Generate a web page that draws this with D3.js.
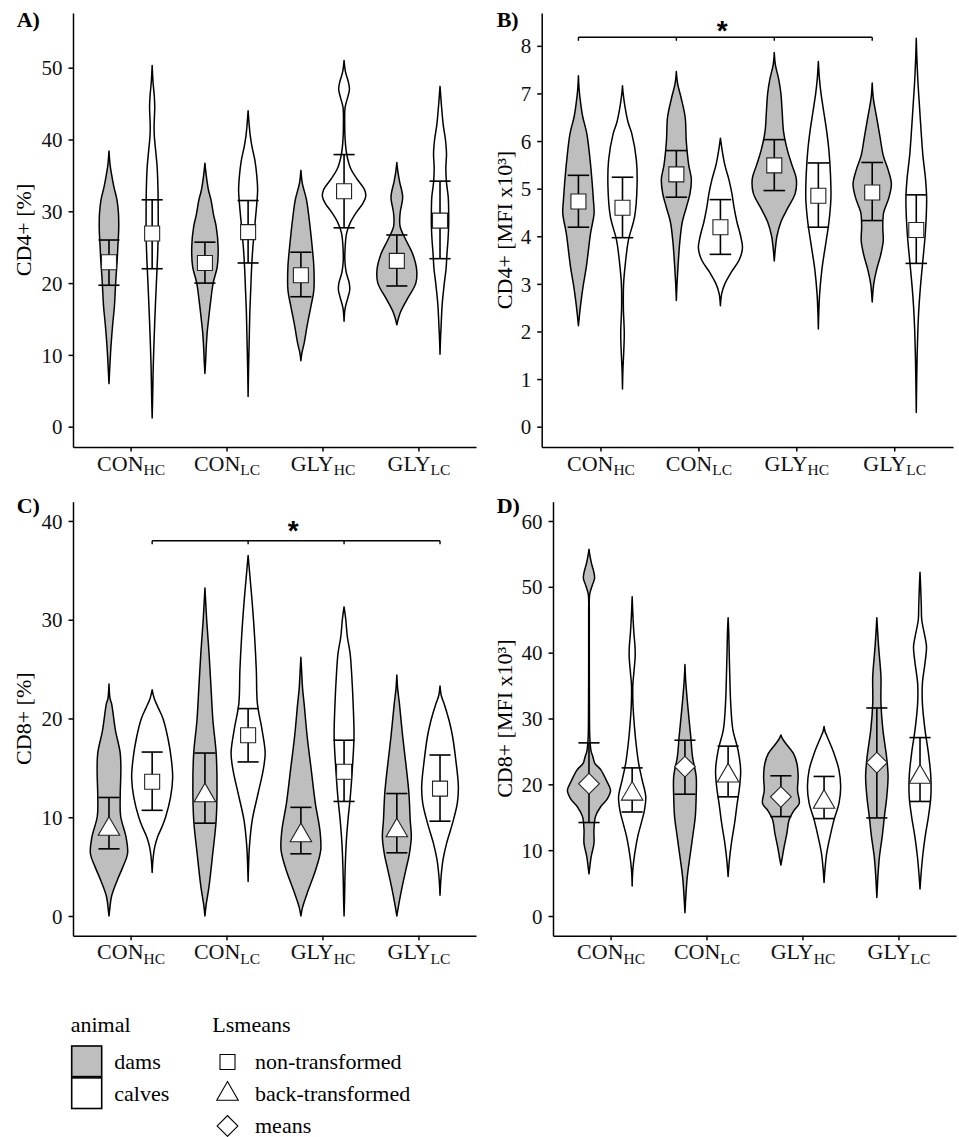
<!DOCTYPE html>
<html><head><meta charset="utf-8">
<script src="https://cdn.jsdelivr.net/npm/d3@7"></script>
<style>body{margin:0;background:#fff}svg{display:block}</style>
</head><body>
<svg id="chart" width="959" height="1137"></svg>
<script>
// ---------------- DATA ----------------
const categories = ["CON_HC", "CON_LC", "GLY_HC", "GLY_LC"];
const catMain = ["CON", "CON", "GLY", "GLY"];
const catSub = ["HC", "LC", "HC", "LC"];
const animals = ["dams", "calves"];

// violin profiles: [value, relative half-width], order: CON_HC dams, CON_HC calves, CON_LC dams, ...
const violinsA = [
  [[38.4,0],[36.5,0.05],[35.3,0.11],[33.5,0.22],[31.6,0.37],[29.7,0.44],[27.5,0.45],[25,0.41],[23.2,0.38],[21,0.33],[19.5,0.3],[16.7,0.25],[14.2,0.17],[11.1,0.09],[8.4,0.04],[6,0]],
  [[50.3,0],[48,0.04],[46,0.1],[44.5,0.12],[42,0.09],[40.5,0.1],[36.2,0.23],[33,0.27],[30,0.28],[27,0.28],[24.5,0.26],[22.3,0.23],[17.6,0.16],[13,0.1],[8.4,0.05],[3.7,0.02],[1.2,0]],
  [[36.7,0],[35,0.06],[33,0.16],[31.6,0.28],[29.5,0.4],[27.9,0.52],[25.1,0.61],[22.3,0.57],[20,0.38],[17.6,0.27],[15,0.17],[13,0.1],[11,0.06],[9,0.03],[7.4,0]],
  [[44,0],[42,0.05],[40.5,0.1],[39,0.18],[37,0.32],[35,0.4],[33,0.44],[31,0.4],[29,0.34],[27,0.28],[25,0.22],[22,0.16],[19,0.12],[16,0.08],[12,0.05],[8,0.02],[4.2,0]],
  [[35.7,0],[34,0.06],[31.6,0.26],[29,0.38],[26.9,0.46],[24.5,0.54],[22.3,0.6],[19,0.6],[16.7,0.46],[13.9,0.28],[11.6,0.15],[10.3,0.05],[9.2,0]],
  [[51,0],[49.5,0.06],[48,0.2],[47,0.25],[46,0.18],[44.5,0.05],[42,0.03],[40,0.05],[38,0.12],[36,0.3],[34.5,0.6],[33,0.95],[32,1.0],[31,0.85],[30,0.6],[28.5,0.3],[27,0.12],[25,0.05],[23,0.04],[21.5,0.1],[20,0.24],[19,0.26],[18,0.18],[16.5,0.05],[14.7,0]],
  [[36.8,0],[35.5,0.05],[34.1,0.13],[32,0.27],[29.7,0.15],[27.9,0.15],[26,0.42],[24.1,0.73],[21.8,0.92],[20,0.88],[17.6,0.45],[15.8,0.15],[14.2,0]],
  [[47.4,0],[45,0.06],[42,0.15],[40,0.25],[38,0.3],[36,0.27],[34,0.3],[32,0.38],[30,0.4],[28,0.4],[26,0.37],[24,0.32],[22,0.28],[20,0.2],[17,0.1],[14,0.05],[12,0.02],[10.1,0]]
];
const lsmeanA = [22.9, 26.9, 22.8, 27.1, 21.1, 32.8, 23.1, 28.7];
const lowerA  = [19.7, 22.0, 20.0, 22.8, 18.1, 27.7, 19.6, 23.4];
const upperA  = [26.0, 31.6, 25.7, 31.5, 24.3, 37.9, 26.7, 34.2];
const shapeA  = ["square","square","square","square","square","square","square","square"];
const ticksA  = [0, 10, 20, 30, 40, 50];

const violinsB = [
  [[7.37,0],[7.1,0.03],[6.8,0.1],[6.5,0.2],[6.16,0.38],[5.46,0.56],[4.76,0.68],[4.48,0.71],[4.06,0.55],[3.36,0.36],[2.94,0.21],[2.52,0.09],[2.12,0]],
  [[7.16,0],[7.0,0.03],[6.7,0.12],[6.4,0.25],[6.16,0.42],[5.6,0.63],[5.04,0.66],[4.41,0.55],[3.92,0.27],[3.43,0.13],[3.0,0.05],[2.5,0.04],[1.96,0.08],[1.5,0.05],[1.2,0.02],[0.79,0]],
  [[7.46,0],[7.2,0.06],[6.9,0.22],[6.5,0.4],[6.0,0.45],[5.5,0.56],[5.2,0.68],[4.9,0.62],[4.6,0.45],[4.3,0.27],[3.9,0.16],[3.4,0.08],[3.0,0.03],[2.65,0]],
  [[6.06,0],[5.8,0.08],[5.5,0.2],[5.2,0.38],[4.9,0.52],[4.6,0.62],[4.3,0.75],[4.0,0.92],[3.75,1.0],[3.5,0.85],[3.25,0.5],[3.0,0.2],[2.8,0.06],[2.54,0]],
  [[7.86,0],[7.6,0.05],[7.3,0.2],[7.0,0.3],[6.6,0.36],[6.2,0.42],[5.8,0.6],[5.5,0.8],[5.2,1.0],[4.9,0.95],[4.6,0.62],[4.3,0.3],[4.0,0.12],[3.7,0.04],[3.48,0]],
  [[7.67,0],[7.3,0.05],[7.0,0.12],[6.6,0.25],[6.2,0.38],[5.8,0.48],[5.3,0.55],[4.8,0.57],[4.3,0.48],[3.8,0.32],[3.3,0.16],[2.8,0.06],[2.4,0.02],[2.05,0]],
  [[7.22,0],[6.9,0.05],[6.5,0.2],[6.1,0.35],[5.7,0.5],[5.4,0.72],[5.1,0.87],[4.8,0.75],[4.5,0.52],[4.2,0.48],[3.9,0.5],[3.6,0.38],[3.3,0.2],[3.0,0.07],[2.62,0]],
  [[8.16,0],[7.7,0.03],[7.2,0.08],[6.7,0.15],[6.2,0.22],[5.7,0.3],[5.2,0.42],[4.8,0.47],[4.4,0.45],[4.0,0.4],[3.5,0.3],[3.0,0.2],[2.5,0.12],[2.0,0.07],[1.5,0.04],[1.0,0.02],[0.3,0]]
];
const lsmeanB = [4.73, 4.60, 5.30, 4.19, 5.49, 4.85, 4.92, 4.13];
const lowerB  = [4.19, 3.97, 4.82, 3.62, 4.96, 4.19, 4.33, 3.43];
const upperB  = [5.28, 5.24, 5.80, 4.77, 6.03, 5.54, 5.55, 4.87];
const shapeB  = ["square","square","square","square","square","square","square","square"];
const ticksB  = [0, 1, 2, 3, 4, 5, 6, 7, 8];
const sigAnimalB = "dams", sigLevelB = 8.18;

const violinsC = [
  [[23.5,0],[22,0.05],[21.5,0.12],[18.8,0.3],[16.5,0.52],[14.8,0.55],[12.1,0.52],[10.1,0.54],[8.0,0.79],[6.3,0.86],[5.0,0.65],[3.6,0.38],[2.0,0.12],[0.6,0.03],[0,0]],
  [[22.9,0],[22,0.1],[21,0.3],[20,0.5],[18,0.73],[16,0.88],[14,0.95],[12,0.85],[10,0.62],[9,0.45],[8,0.25],[7,0.12],[6,0.05],[4.4,0]],
  [[33.2,0],[32,0.03],[30,0.08],[26.6,0.19],[23.2,0.28],[19.8,0.37],[16.5,0.52],[13.1,0.56],[9.7,0.52],[6.3,0.36],[3.0,0.19],[1.2,0.06],[0,0]],
  [[36.5,0],[35,0.06],[31.7,0.19],[28.3,0.3],[24.9,0.38],[21.5,0.43],[18.8,0.65],[16.5,0.79],[14.8,0.7],[12.4,0.46],[9.7,0.19],[7,0.06],[5,0.02],[3.5,0]],
  [[26.2,0],[25,0.03],[23,0.08],[21.5,0.15],[18.2,0.29],[14.8,0.48],[11.4,0.67],[8.7,0.88],[6.7,0.92],[4.7,0.69],[2.6,0.34],[0.9,0.08],[0,0]],
  [[31.3,0],[30,0.08],[28.3,0.15],[26.6,0.28],[24.2,0.36],[21.5,0.42],[18.2,0.46],[14.8,0.38],[12.1,0.29],[9.7,0.18],[7.4,0.1],[4.7,0.05],[1.5,0.02],[0,0]],
  [[24.4,0],[23,0.04],[21.5,0.12],[18.2,0.27],[14.8,0.45],[12.4,0.56],[9.7,0.62],[8,0.67],[6.3,0.58],[4.7,0.42],[3,0.25],[1.3,0.1],[0,0]],
  [[23.3,0],[22.3,0.06],[21.5,0.19],[19.8,0.42],[18.2,0.58],[15.8,0.73],[13.1,0.85],[11.4,0.8],[9.4,0.58],[7.4,0.31],[5.7,0.14],[4,0.05],[2.1,0]]
];
const lsmeanC = [8.8, 13.6, 12.2, 18.3, 8.15, 14.6, 8.65, 12.9];
const lowerC  = [6.8, 10.7, 9.4, 15.6, 6.3, 11.6, 6.4, 9.6];
const upperC  = [12.0, 16.6, 16.5, 21.0, 11.0, 17.8, 12.4, 16.3];
const shapeC  = ["triangle","square","triangle","square","triangle","square","triangle","square"];
const ticksC  = [0, 10, 20, 30, 40];
const sigAnimalC = "calves", sigLevelC = 38.0;

const violinsD = [
  [[55.7,0],[55,0.03],[53.5,0.12],[52.3,0.22],[51.3,0.26],[50.2,0.15],[48.8,0.03],[46,0.015],[40,0.015],[32,0.02],[27,0.04],[25,0.1],[24.2,0.18],[23.2,0.27],[22.2,0.55],[20.5,0.82],[19.1,1.0],[17.8,0.85],[16.6,0.54],[15.1,0.3],[13.1,0.23],[11,0.23],[9,0.1],[7.2,0.03],[6.4,0]],
  [[48.5,0],[46,0.03],[43,0.08],[41,0.13],[39.5,0.14],[37,0.08],[35,0.03],[32,0.04],[29,0.1],[26.2,0.18],[23.2,0.3],[20.7,0.46],[18.1,0.63],[16.1,0.57],[14.1,0.42],[12.1,0.26],[9.5,0.12],[7,0.03],[4.56,0]],
  [[38.2,0],[36,0.03],[32.3,0.12],[27.2,0.27],[24.2,0.35],[21.2,0.52],[18.1,0.52],[15.1,0.48],[12.1,0.36],[9.0,0.23],[6.0,0.11],[2.9,0.04],[0.5,0]],
  [[45.3,0],[43,0.03],[40,0.05],[37.4,0.07],[32.3,0.12],[28.3,0.22],[25.2,0.46],[22.2,0.58],[19.6,0.53],[17.1,0.42],[14.1,0.3],[11,0.15],[8.5,0.06],[6,0]],
  [[27.5,0],[26.9,0.08],[26.2,0.23],[24.7,0.58],[23.2,0.74],[21.2,0.8],[19.1,0.77],[17.1,0.85],[16.1,0.62],[14.6,0.38],[12.6,0.28],[10.5,0.15],[9.0,0.07],[7.75,0]],
  [[28.8,0],[28,0.05],[27.2,0.15],[24.7,0.46],[22.2,0.69],[19.6,0.77],[17.1,0.69],[14.6,0.46],[12.1,0.28],[9.5,0.12],[7,0.04],[5.1,0]],
  [[45.3,0],[43,0.04],[41,0.08],[39.4,0.12],[36.4,0.19],[32.3,0.19],[28.3,0.28],[24.2,0.45],[21.2,0.52],[18.1,0.46],[15.1,0.35],[12.1,0.25],[9,0.12],[6,0.05],[2.8,0]],
  [[52.2,0],[50,0.03],[47,0.06],[45,0.08],[42.4,0.23],[40.9,0.3],[38.4,0.23],[35.3,0.11],[32.3,0.11],[28.3,0.23],[24.7,0.39],[21.2,0.5],[18.1,0.5],[15.1,0.39],[12.1,0.24],[9,0.12],[6,0.04],[4.1,0]]
];
const lsmeanD = [20.1, 18.55, 22.7, 21.3, 18.1, 17.3, 23.3, 21.1];
const lowerD  = [14.2, 15.8, 18.5, 18.1, 15.1, 14.8, 14.9, 17.4];
const upperD  = [26.3, 22.5, 26.7, 25.8, 21.3, 21.2, 31.6, 27.1];
const shapeD  = ["diamond","triangle","diamond","triangle","diamond","triangle","diamond","triangle"];
const ticksD  = [0, 10, 20, 30, 40, 50, 60];

const legendAnimals = ["dams", "calves"];
const legendShapes = ["square", "triangle", "diamond"];
const legendShapeLabels = ["non-transformed", "back-transformed", "means"];

// ---------------- DRAWING ----------------
const SERIF = "'Liberation Serif','Times New Roman',serif";
const fillFor = {dams: "#bebebe", calves: "#ffffff"};
const svg = d3.select("#chart").style("font-family", SERIF);
svg.append("rect").attr("width", 959).attr("height", 1137).attr("fill", "#fff");

const symbolFor = {
  square: d3.symbol().type(d3.symbolSquare).size(225),
  triangle: d3.symbol().type(d3.symbolTriangle).size(200),
  diamond: d3.symbol().type(d3.symbolSquare).size(215)
};

const panels = [
  {letter:"A)", title:"CD4+ [%]", violins:violinsA, ls:lsmeanA, lo:lowerA, hi:upperA, shapes:shapeA, ticks:ticksA,
   xRange:[73,476], yDomain:[-2.83,57.62], yRange:[447,13], letterPos:[16.7,26.7], titleX:30.5},
  {letter:"B)", title:"CD4+ [MFI x10³]", violins:violinsB, ls:lsmeanB, lo:lowerB, hi:upperB, shapes:shapeB, ticks:ticksB,
   xRange:[541.7,953], yDomain:[-0.427,8.69], yRange:[447,13], letterPos:[496.7,26.7], titleX:512,
   sig:{animal:sigAnimalB, level:sigLevelB, starLift:13.2}},
  {letter:"C)", title:"CD8+ [%]", violins:violinsC, ls:lsmeanC, lo:lowerC, hi:upperC, shapes:shapeC, ticks:ticksC,
   xRange:[73,476], yDomain:[-1.995,41.95], yRange:[935.7,501.7], letterPos:[16.7,513.3], titleX:30.5,
   sig:{animal:sigAnimalC, level:sigLevelC, starLift:16.4}},
  {letter:"D)", title:"CD8+ [MFI x10³]", violins:violinsD, ls:lsmeanD, lo:lowerD, hi:upperD, shapes:shapeD, ticks:ticksD,
   xRange:[553,956], yDomain:[-2.99,62.93], yRange:[935.7,501.7], letterPos:[496.7,513.3], titleX:512}
];

panels.forEach(p => {
  const g = svg.append("g");
  const x = d3.scalePoint().domain(categories).range(p.xRange).padding(0.6);
  const step = x.step();
  const dodge = d3.scaleOrdinal().domain(animals).range([-0.225 * step, 0.225 * step]);
  const y = d3.scaleLinear().domain(p.yDomain).range(p.yRange);
  const w = d3.scaleLinear().domain([0, 1]).range([0, 0.225 * step]);
  const capW = 0.11 * step;

  const items = p.violins.map((prof, i) => {
    const cat = categories[Math.floor(i / 2)], an = animals[i % 2];
    return {prof, cat, an, cx: x(cat) + dodge(an), ls: p.ls[i], lo: p.lo[i], hi: p.hi[i], shape: p.shapes[i]};
  });

  // violins
  items.forEach(it => {
    const area = d3.area()
      .y(d => y(d[0]))
      .x0(d => it.cx - w(d[1]))
      .x1(d => it.cx + w(d[1]))
      .curve(d3.curveCatmullRom.alpha(0.5));
    g.append("path").attr("d", area(it.prof))
      .attr("fill", fillFor[it.an]).attr("stroke", "#000").attr("stroke-width", 1.5)
      .attr("stroke-linejoin", "round");
  });

  // error bars
  items.forEach(it => {
    const eb = g.append("g").attr("stroke", "#000").attr("stroke-width", 1.6);
    eb.append("line").attr("x1", it.cx).attr("x2", it.cx).attr("y1", y(it.lo)).attr("y2", y(it.hi));
    [it.lo, it.hi].forEach(v => eb.append("line")
      .attr("x1", it.cx - capW).attr("x2", it.cx + capW).attr("y1", y(v)).attr("y2", y(v)));
  });

  // lsmean points
  items.forEach(it => {
    g.append("path").attr("d", symbolFor[it.shape]())
      .attr("transform", `translate(${it.cx},${y(it.ls)})` + (it.shape === "diamond" ? " rotate(45)" : ""))
      .attr("fill", "#fff").attr("stroke", "#222").attr("stroke-width", 1.1);
  });

  // axes
  const yAxis = d3.axisLeft(y).tickValues(p.ticks).tickSize(4.5).tickSizeOuter(0).tickPadding(6);
  const gy = g.append("g").attr("transform", `translate(${p.xRange[0]},0)`).call(yAxis);
  gy.select(".domain").attr("stroke-width", 1.5);
  gy.selectAll(".tick line").attr("stroke-width", 1.5);
  gy.selectAll(".tick text").attr("font-size", 21).attr("font-family", SERIF).attr("fill", "#111").attr("dy", "0.34em");

  const xAxis = d3.axisBottom(x).tickSize(4.5).tickSizeOuter(0).tickPadding(3.6);
  const gx = g.append("g").attr("transform", `translate(0,${p.yRange[0]})`).call(xAxis);
  gx.select(".domain").attr("stroke-width", 1.5);
  gx.selectAll(".tick line").attr("stroke-width", 1.5);
  gx.selectAll(".tick text").each(function(d, i) {
    const t = d3.select(this).text(null).attr("font-size", 22).attr("font-family", SERIF).attr("fill", "#111");
    t.append("tspan").text(catMain[i]);
    t.append("tspan").attr("font-size", 15.5).attr("dy", 4.3).text(catSub[i]);
  });

  // y title
  const cy = (p.yRange[0] + p.yRange[1]) / 2;
  g.append("text").attr("transform", `translate(${p.titleX},${cy}) rotate(-90)`)
    .attr("text-anchor", "middle").attr("font-size", 22).attr("fill", "#000").text(p.title);

  // panel letter
  g.append("text").attr("x", p.letterPos[0]).attr("y", p.letterPos[1])
    .attr("font-size", 22).attr("font-weight", "bold").text(p.letter);

  // significance bracket
  if (p.sig) {
    const xs = categories.map(c => x(c) + dodge(p.sig.animal));
    const ly = y(p.sig.level);
    const sg = g.append("g").attr("stroke", "#000").attr("stroke-width", 1.4).attr("fill", "none");
    sg.append("line").attr("x1", xs[0]).attr("x2", xs[xs.length - 1]).attr("y1", ly).attr("y2", ly);
    xs.forEach(xx => sg.append("line").attr("x1", xx).attr("x2", xx).attr("y1", ly).attr("y2", ly + 3.5));
    const fs = 28;
    g.append("text").attr("x", (xs[0] + xs[xs.length - 1]) / 2 - 3)
      .attr("y", ly - p.sig.starLift + 0.575 * fs)
      .attr("text-anchor", "middle").attr("font-family", "'Liberation Sans',Arial,sans-serif")
      .attr("font-weight", "bold").attr("font-size", fs).text("*");
  }
});

// ---------------- LEGEND ----------------
const lg = svg.append("g").attr("font-size", 22).attr("fill", "#000");
lg.append("text").attr("x", 70.7).attr("y", 1031.5).text("animal");
const rowY = d3.scaleBand().domain(legendAnimals).range([1046, 1108.5]).paddingInner(0.04);
legendAnimals.forEach(a => {
  lg.append("rect").attr("x", 71.7).attr("y", rowY(a)).attr("width", 30).attr("height", rowY.bandwidth())
    .attr("fill", fillFor[a]).attr("stroke", "#000").attr("stroke-width", 1.6);
  lg.append("text").attr("x", 114.3).attr("y", rowY(a) + rowY.bandwidth() / 2 + 8).text(a);
});
lg.append("text").attr("x", 212.3).attr("y", 1031.5).text("Lsmeans");
const shapeY = d3.scalePoint().domain(legendShapes).range([1062, 1126]);
legendShapes.forEach((s, i) => {
  lg.append("path").attr("d", symbolFor[s]())
    .attr("transform", `translate(227.5,${shapeY(s)})` + (s === "diamond" ? " rotate(45)" : ""))
    .attr("fill", "#fff").attr("stroke", "#000").attr("stroke-width", 1.1);
  lg.append("text").attr("x", 255).attr("y", shapeY(s) + 7).text(legendShapeLabels[i]);
});
</script>
</body></html>
